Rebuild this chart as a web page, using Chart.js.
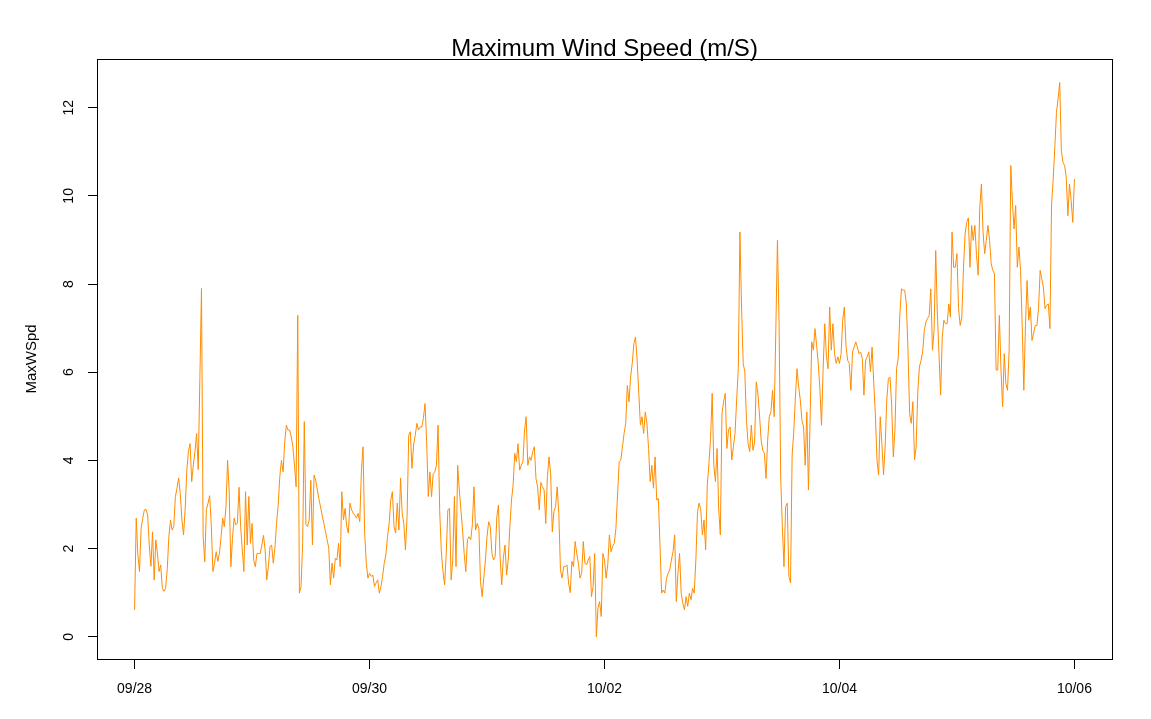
<!DOCTYPE html>
<html><head><meta charset="utf-8">
<script src="https://cdn.jsdelivr.net/npm/chart.js@4"></script>
<style>html,body{margin:0;padding:0;background:#fff}#c{display:block}</style>
</head><body>
<canvas id="c" width="1151" height="719"></canvas>
<script>
const chartTitle = 'Maximum Wind Speed (m/S)';
const yAxisLabel = 'MaxWSpd';
const sampleMinutes = 20; // one reading every 20 minutes from 09/28 00:00
const xTickHours = [0, 48, 96, 144, 192];
const xTickLabels = ['09/28', '09/30', '10/02', '10/04', '10/06'];
const yTickValues = [0, 2, 4, 6, 8, 10, 12];
const maxWSpd = [
0.61,2.69,1.86,1.48,2.46,2.69,2.88,2.89,2.76,2.08,
1.6,2.38,1.29,2.2,1.89,1.48,1.63,1.1,1.03,1.1,
1.52,2.27,2.65,2.42,2.5,3.18,3.37,3.6,3.25,2.65,
2.31,2.9,3.78,4.2,4.38,3.52,3.9,4.2,4.61,3.79,
5.83,7.9,2.3,1.7,2.88,3.03,3.2,2.54,1.48,1.67,
1.93,1.71,1.89,2.27,2.69,2.5,2.95,4.0,3.29,1.59,
2.23,2.69,2.54,2.57,3.39,2.5,1.97,1.48,3.29,2.08,
3.18,2.12,2.57,1.74,1.59,1.89,1.89,1.89,2.08,2.3,
1.97,1.29,1.59,2.05,2.08,1.67,2.01,2.57,2.99,3.63,
4.0,3.74,4.42,4.8,4.69,4.69,4.54,4.31,3.89,3.4,
7.29,0.99,1.14,2.12,4.88,2.54,2.5,2.65,3.55,2.08,
3.67,3.55,3.33,3.12,2.94,2.75,2.57,2.38,2.2,2.01,
1.18,1.67,1.33,1.78,1.74,2.12,1.59,3.29,2.65,2.91,
2.5,2.35,3.03,2.88,2.8,2.76,2.69,2.8,2.61,3.74,
4.31,2.35,1.67,1.33,1.44,1.37,1.4,1.14,1.22,1.29,
0.99,1.14,1.37,1.67,1.86,2.27,2.57,3.1,3.29,2.5,
2.35,3.03,2.42,
3.6,2.8,2.57,1.97,2.72,4.57,4.65,3.82,4.35,4.57,
4.84,4.69,4.76,4.76,4.95,5.29,4.42,3.18,3.74,3.18,
3.7,3.74,3.89,4.8,2.84,1.93,1.48,1.18,1.89,2.88,
2.91,1.29,1.74,3.18,1.59,3.89,3.33,2.88,2.42,1.89,
1.48,2.2,2.27,2.2,2.54,3.4,2.42,2.57,2.46,1.25,
0.91,1.33,1.74,2.27,2.61,2.5,1.89,1.74,1.82,2.72,
2.99,1.82,1.18,1.78,2.08,1.4,1.74,2.5,3.1,3.44,
4.16,3.97,4.38,3.78,3.89,3.97,4.69,4.99,3.89,4.08,
4.0,4.2,4.31,
3.59,3.4,2.88,3.5,3.4,3.33,2.57,3.63,4.08,3.7,
2.38,2.84,2.95,3.4,2.8,1.52,1.33,1.59,1.59,1.63,
1.22,1.0,1.71,1.59,2.16,1.89,1.67,1.33,1.44,2.16,
1.67,1.63,1.74,1.82,0.91,1.14,1.89,0.0,0.65,0.8,
0.46,1.89,1.74,1.33,1.63,2.31,1.93,2.05,2.12,2.46,
3.22,3.97,4.01,4.31,4.61,4.84,5.7,5.33,5.89,6.2,
6.65,6.8,6.27,5.55,4.8,4.99,4.61,5.1,4.84,4.27,
3.52,3.89,3.37,4.08,3.1,3.14,2.08,0.99,1.06,0.99,
1.33,1.44,1.52,
1.74,1.93,2.31,0.8,1.44,1.89,0.99,0.76,0.61,0.91,
0.69,0.99,0.84,1.1,0.99,1.74,2.84,3.03,2.88,2.31,
2.65,1.97,3.44,3.93,4.5,5.52,3.89,3.52,4.27,2.88,
2.31,5.06,5.33,5.52,4.27,4.69,4.76,4.01,4.31,4.61,
5.37,6.08,9.18,7.48,6.2,6.01,4.91,4.38,4.2,4.8,
4.23,4.42,5.78,5.52,5.03,4.46,4.23,4.16,3.59,4.46,
4.99,5.1,5.59,4.99,6.95,8.99,7.1,3.59,2.5,1.59,
2.95,3.03,1.37,1.22,4.12,4.65,5.44,6.08,5.67,5.37,
4.91,4.76,3.89,
5.1,3.33,4.91,6.69,6.5,6.99,6.61,6.2,5.63,4.8,
6.08,7.1,6.38,6.08,7.48,6.5,7.1,6.42,6.2,6.35,
6.2,6.42,7.18,7.48,6.61,6.27,6.2,5.59,6.46,6.57,
6.69,6.57,6.42,6.46,6.31,5.48,6.27,6.35,6.46,6.01,
6.57,5.78,5.06,4.01,3.67,4.99,4.38,3.67,4.31,5.37,
5.86,5.89,5.25,4.08,4.69,6.08,6.31,7.29,7.89,7.86,
7.86,7.55,6.5,5.06,4.84,5.33,4.01,4.31,5.55,6.12,
6.27,6.46,6.95,7.14,7.22,7.29,7.89,6.5,6.95,8.76,
7.33,6.42,5.48,
6.8,7.18,7.1,7.1,7.55,7.25,9.18,8.38,8.38,8.69,
7.44,7.06,7.25,8.35,9.14,9.4,9.5,8.38,9.33,8.99,
9.33,8.65,8.2,9.74,10.27,9.18,8.69,8.99,9.33,8.99,
8.46,8.31,8.23,6.05,6.05,7.29,6.05,5.22,6.42,5.74,
5.59,6.5,10.69,9.86,9.25,9.78,8.38,8.84,8.31,7.06,
5.59,7.06,8.08,7.18,7.48,6.72,6.88,7.06,7.06,7.44,
8.31,8.12,7.93,7.44,7.52,7.55,6.99,9.82,10.38,11.1,
11.89,12.2,12.57,11.03,10.76,10.69,10.42,9.55,10.27,9.89,
9.4,10.38
];

const points = maxWSpd.map((v, i) => ({ x: i * sampleMinutes / 60, y: v }));

const boxPlugin = {
  id: 'plotBox',
  afterDraw(chart) {
    const { ctx, chartArea: a } = chart;
    ctx.save();
    ctx.strokeStyle = '#000';
    ctx.lineWidth = 1;
    ctx.strokeRect(Math.round(a.left) + 0.5, Math.round(a.top) + 0.5,
                   Math.round(a.right - a.left), Math.round(a.bottom - a.top));
    ctx.restore();
  }
};

const tickFont = { family: 'Liberation Sans, Arial, sans-serif', size: 14 };

new Chart(document.getElementById('c'), {
  type: 'line',
  data: {
    datasets: [{
      label: yAxisLabel,
      data: points,
      borderColor: '#FF8C00',
      borderWidth: 1,
      pointRadius: 0,
      tension: 0,
      fill: false
    }]
  },
  options: {
    responsive: false,
    animation: false,
    devicePixelRatio: 1,
    layout: { padding: { left: 0, right: 39, top: 0, bottom: 0 } },
    plugins: {
      legend: { display: false },
      tooltip: { enabled: false },
      title: {
        display: true,
        text: chartTitle,
        fullSize: false,
        color: '#000',
        font: { family: 'Liberation Sans, Arial, sans-serif', size: 24, weight: 'normal', lineHeight: 0.8333 },
        padding: { top: 39, bottom: 0 }
      }
    },
    scales: {
      x: {
        type: 'linear',
        min: -7.68,
        max: 199.68,
        afterBuildTicks(s) { s.ticks = xTickHours.map(v => ({ value: v })); },
        afterFit(s) { s.height = 60; },
        ticks: {
          autoSkip: false, maxRotation: 0, minRotation: 0, padding: 12,
          color: '#000', font: tickFont,
          callback: (v, i) => xTickLabels[i]
        },
        grid: { display: true, drawOnChartArea: false, drawTicks: true, tickLength: 10, color: '#000', lineWidth: 1 },
        border: { display: false }
      },
      y: {
        type: 'linear',
        min: -0.504,
        max: 13.104,
        afterBuildTicks(s) { s.ticks = yTickValues.map(v => ({ value: v })); },
        afterFit(s) { s.width = 97; },
        ticks: {
          minRotation: 90, maxRotation: 90, crossAlign: 'center', padding: 11,
          color: '#000', font: tickFont,
          callback: (v) => String(v)
        },
        grid: { display: true, drawOnChartArea: false, drawTicks: true, tickLength: 9, color: '#000', lineWidth: 1 },
        border: { display: false },
        title: {
          display: true, text: yAxisLabel, color: '#000',
          font: { family: 'Liberation Sans, Arial, sans-serif', size: 15 },
          padding: { top: 23, bottom: 0 }
        }
      }
    }
  },
  plugins: [boxPlugin]
});
</script>
</body></html>
